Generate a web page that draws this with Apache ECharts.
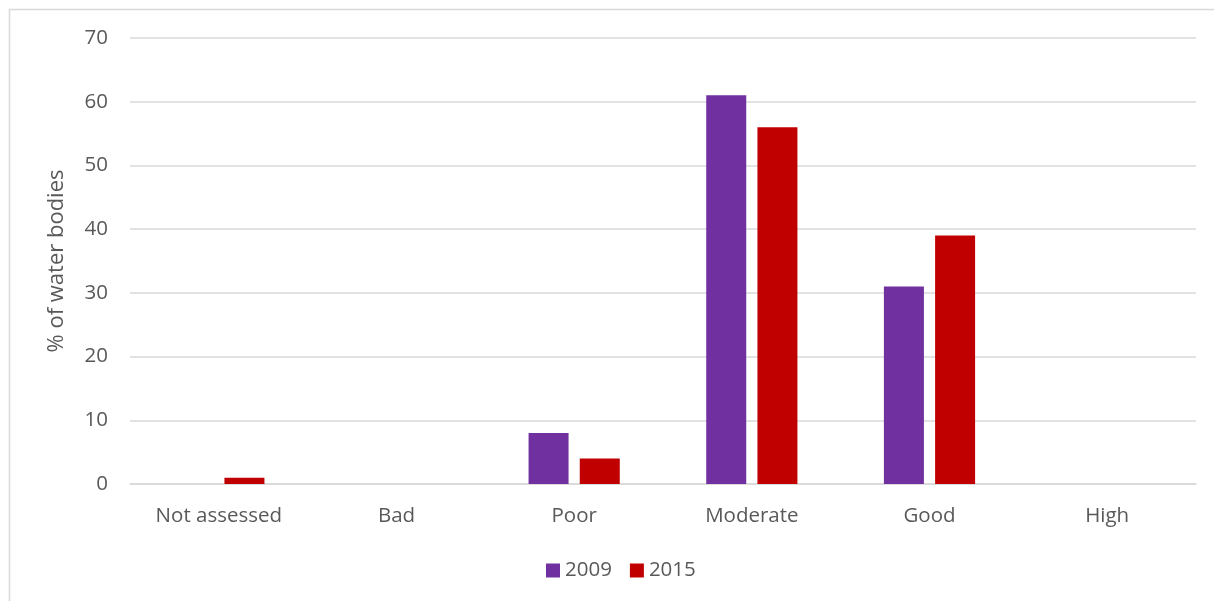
<!DOCTYPE html>
<html><head><meta charset="utf-8">
<script src="https://cdn.jsdelivr.net/npm/echarts@6/dist/echarts.min.js"></script>
<style>html,body{margin:0;padding:0;background:#fff}#c{width:1214px;height:601px}</style>
</head><body><div id="c"></div>
<script>
const categories = ['Not assessed', 'Bad', 'Poor', 'Moderate', 'Good', 'High'];
const values2009 = [0, 0, 8, 61, 31, 0];
const values2015 = [1, 0, 4, 56, 39, 0];
const seriesNames = ['2009', '2015'];
const yTicks = [0, 10, 20, 30, 40, 50, 60, 70];

const chart = echarts.init(document.getElementById('c'), null, {renderer: 'canvas'});
const font = '"Open Sans", "Liberation Sans", sans-serif';
chart.setOption({
  animation: false,
  graphic: [{type: 'rect', shape: {x: 9.5, y: 9.5, width: 1220, height: 600}, style: {fill: 'none', stroke: '#d9d9d9', lineWidth: 1.5}, silent: true}],
  grid: {left: 130, right: 18, top: 38, bottom: 117},
  legend: {
    bottom: 15, left: 541, itemWidth: 14, itemHeight: 14, itemGap: 18,
    icon: 'rect',
    textStyle: {fontFamily: font, fontSize: 20.5, color: '#595959'},
    data: seriesNames
  },
  xAxis: {
    type: 'category', data: categories,
    axisLine: {lineStyle: {color: '#d9d9d9', width: 1.5}},
    axisTick: {show: false},
    axisLabel: {fontFamily: font, fontSize: 20.5, color: '#595959', margin: 22}
  },
  yAxis: {
    type: 'value', min: yTicks[0], max: yTicks[yTicks.length - 1], interval: 10,
    name: '% of water bodies', nameLocation: 'middle', nameGap: 62,
    nameTextStyle: {fontFamily: font, fontSize: 22, color: '#595959'},
    axisLine: {show: false}, axisTick: {show: false},
    axisLabel: {fontFamily: font, fontSize: 20.5, color: '#595959', margin: 22},
    splitLine: {lineStyle: {color: '#d9d9d9', width: 1.5}}
  },
  series: [
    {name: seriesNames[0], type: 'bar', data: values2009, barWidth: 40, barGap: '28%', itemStyle: {color: '#7030A0'}},
    {name: seriesNames[1], type: 'bar', data: values2015, barWidth: 40, itemStyle: {color: '#C00000'}}
  ]
});
</script></body></html>
